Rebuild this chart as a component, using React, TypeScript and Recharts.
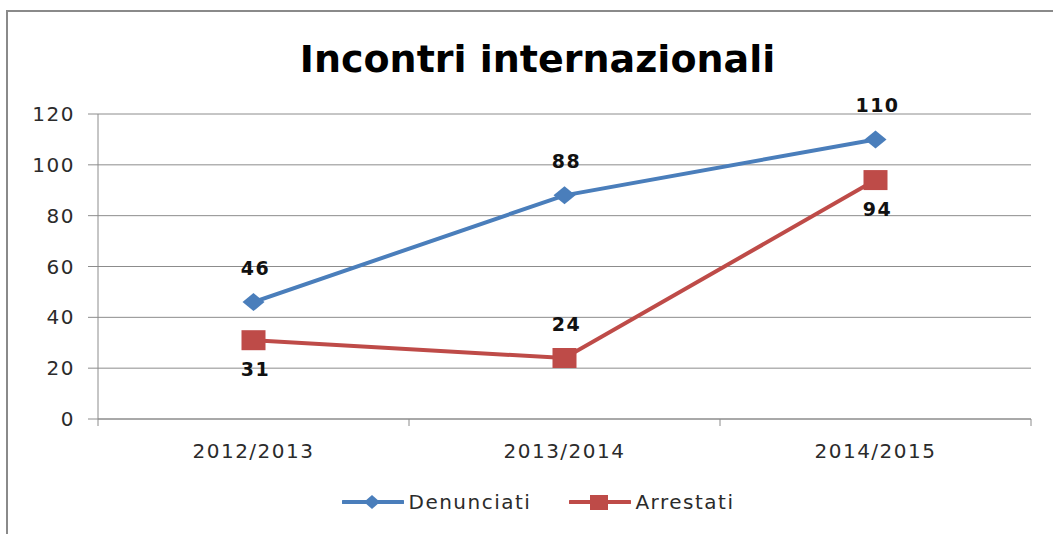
import { CartesianGrid, LabelList, Line, LineChart, XAxis, YAxis } from "recharts";

const seasons = ["2012/2013", "2013/2014", "2014/2015"];
const denunciati = [46, 88, 110];
const arrestati = [31, 24, 94];
const yTicks = [0, 20, 40, 60, 80, 100, 120];

const data = seasons.map((season, i) => ({ season, denunciati: denunciati[i], arrestati: arrestati[i] }));

const W = 1053;
const H = 534;
const MARGIN = { top: 114, right: 22, bottom: 75, left: 0 };
const Y_AXIS_W = 98;
const HALF_BAND = (W - MARGIN.left - MARGIN.right - Y_AXIS_W) / seasons.length / 2;

const BLUE = "#4a7ebb";
const RED = "#be4b48";
const GRID = "#8c8c8c";
const TEXT = "#2b2b2b";
const FONT = "'DejaVu Sans', sans-serif";

// label placement per point, like the original chart
const arrestatiPlacement = ["below", "above", "below"];

function Diamond({ cx, cy, fill }: any) {
  if (cx == null || cy == null) return null;
  return <polygon points={`${cx - 11},${cy} ${cx},${cy - 9} ${cx + 11},${cy} ${cx},${cy + 9}`} fill={fill} />;
}

function Square({ cx, cy, fill }: any) {
  if (cx == null || cy == null) return null;
  return <rect x={cx - 12} y={cy - 10} width={24} height={20} fill={fill} />;
}

function SeasonTick({ x, y, payload, index }: any) {
  return (
    <g>
      <line x1={x - HALF_BAND} x2={x - HALF_BAND} y1={y} y2={y + 7} stroke={GRID} />
      {index === seasons.length - 1 && <line x1={x + HALF_BAND} x2={x + HALF_BAND} y1={y} y2={y + 7} stroke={GRID} />}
      <text x={x} y={y + 39} textAnchor="middle" fill={TEXT} fontFamily={FONT} fontSize={20} letterSpacing={1.5}>
        {payload.value}
      </text>
    </g>
  );
}

function valueLabel(placement: (i: number) => string) {
  return ({ x, y, value, index }: any) => {
    const below = placement(index) === "below";
    return (
      <text
        x={x + 2}
        y={below ? y + 36 : y - 27}
        textAnchor="middle"
        fill="#111"
        fontFamily={FONT}
        fontWeight="bold"
        fontSize={19}
        letterSpacing={1.5}
      >
        {value}
      </text>
    );
  };
}

function LegendItem({ label, color, square }: { label: string; color: string; square?: boolean }) {
  return (
    <div style={{ display: "flex", alignItems: "center" }}>
      <svg width={62} height={20}>
        <line x1={1} x2={61} y1={10} y2={10} stroke={color} strokeWidth={4} strokeLinecap="round" />
        {square ? <rect x={21} y={3} width={18} height={15} fill={color} /> : <polygon points="22,10 30,3 38,10 30,17" fill={color} />}
      </svg>
      <span style={{ marginLeft: 4, fontFamily: FONT, fontSize: 20, letterSpacing: 1.5, color: TEXT }}>{label}</span>
    </div>
  );
}

export default function App() {
  return (
    <div style={{ position: "absolute", left: 0, top: 0, width: W, height: H, background: "#fff", overflow: "hidden" }}>
      <div
        style={{
          position: "absolute",
          left: 6,
          top: 10,
          width: W,
          height: H,
          borderTop: "2px solid #8a8a8a",
          borderLeft: "2px solid #8a8a8a"
        }}
      />
      <div
        style={{
          position: "absolute",
          top: 40,
          left: 11,
          width: W,
          textAlign: "center",
          fontFamily: FONT,
          fontWeight: "bold",
          fontSize: 38,
          lineHeight: "38px",
          color: "#000"
        }}
      >
        Incontri internazionali
      </div>
      <LineChart width={W} height={H} data={data} margin={MARGIN} style={{ position: "absolute", left: 0, top: 0 }}>
        <CartesianGrid vertical={false} stroke={GRID} />
        <XAxis
          dataKey="season"
          padding={{ left: HALF_BAND, right: HALF_BAND }}
          height={40}
          axisLine={{ stroke: GRID }}
          tickLine={false}
          tickSize={0}
          tickMargin={0}
          tick={<SeasonTick />}
          interval={0}
        />
        <YAxis
          width={Y_AXIS_W}
          domain={[0, 120]}
          ticks={yTicks}
          interval={0}
          axisLine={{ stroke: GRID }}
          tickLine={{ stroke: GRID }}
          tickSize={10}
          tickMargin={13}
          tick={{ fill: TEXT, fontFamily: FONT, fontSize: 20, letterSpacing: 1.5 }}
        />
        <Line
          dataKey="denunciati"
          name="Denunciati"
          stroke={BLUE}
          strokeWidth={4}
          dot={<Diamond fill={BLUE} />}
          activeDot={false}
          isAnimationActive={false}
        >
          <LabelList dataKey="denunciati" content={valueLabel(() => "above")} />
        </Line>
        <Line
          dataKey="arrestati"
          name="Arrestati"
          stroke={RED}
          strokeWidth={4}
          dot={<Square fill={RED} />}
          activeDot={false}
          isAnimationActive={false}
        >
          <LabelList dataKey="arrestati" content={valueLabel((i) => arrestatiPlacement[i])} />
        </Line>
      </LineChart>
      <div
        style={{
          position: "absolute",
          top: 490,
          left: 12,
          width: W,
          display: "flex",
          justifyContent: "center",
          gap: 38
        }}
      >
        <LegendItem label="Denunciati" color={BLUE} />
        <LegendItem label="Arrestati" color={RED} square />
      </div>
    </div>
  );
}
